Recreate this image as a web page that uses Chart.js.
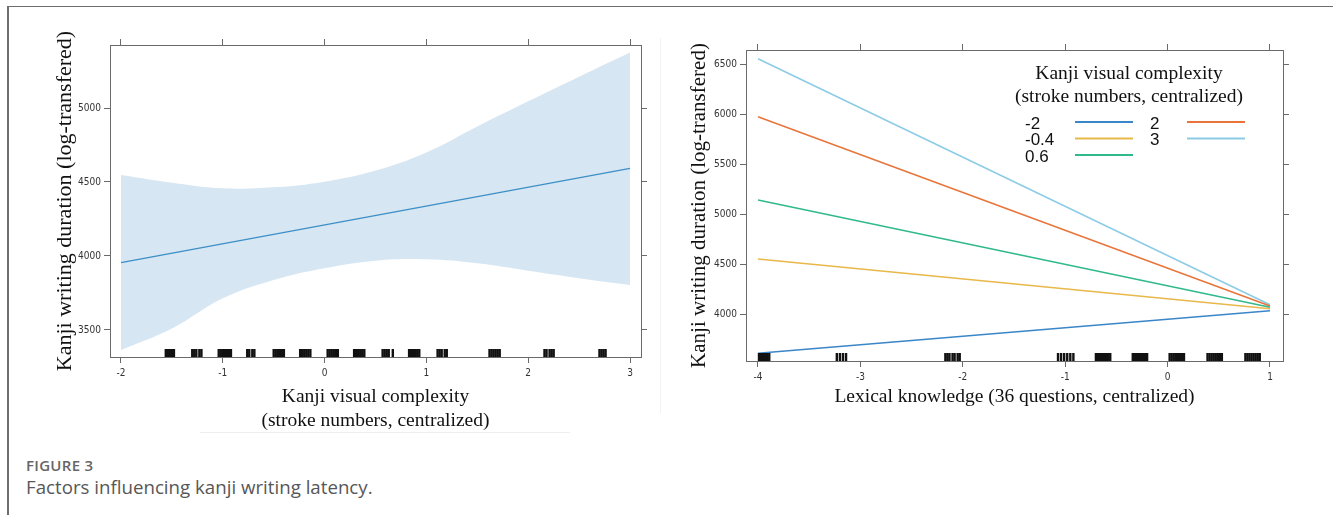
<!DOCTYPE html>
<html lang="en">
<head>
<meta charset="UTF-8">
<meta name="viewport" content="width=device-width, initial-scale=1.0">
<script src="https://cdn.jsdelivr.net/npm/chart.js"></script>
<title>Figure 3</title>
<style>
  body { margin: 0; background: #fff; width: 1333px; height: 515px; overflow: hidden; position: relative; font-family: "Open Sans", sans-serif; }
  #frame { position: absolute; left: 7px; top: 6px; right: 0; bottom: 0; border-left: 2px solid #6e6e6e; border-top: 1px solid #6e6e6e; }
  #left { position: absolute; left: 0; top: 0; }
  #right { position: absolute; left: 665px; top: 0; }
  .edge-h { position: absolute; left: 200px; top: 432px; width: 370px; height: 1px; background: #eeeeee; }
  .edge-v { position: absolute; left: 660px; top: 38px; width: 1px; height: 375px; background: #f2f2f2; }
  .cap1 { position: absolute; left: 26px; top: 455px; font-size: 15px; font-weight: 600; color: #666; letter-spacing: 0.3px; }
  .cap2 { position: absolute; left: 26px; top: 474px; font-size: 18.7px; color: #575757; }
</style>
</head>
<body>
  <div id="frame"></div>
  <div class="edge-h"></div>
  <div class="edge-v"></div>
  <canvas id="left" width="660" height="440"></canvas>
  <canvas id="right" width="668" height="440"></canvas>
  <div class="cap1">FIGURE 3</div>
  <div class="cap2">Factors influencing kanji writing latency.</div>
  <script>
    // left panel: visual complexity
    const complexityTicks = [-2, -1, 0, 1, 2, 3]
    const durationTicksLeft = [3500, 4000, 4500, 5000]
    const bandX = [-2, -1.5, -1, -0.5, 0, 0.5, 1, 1.5, 2, 2.5, 3]
    const bandUpper = [4547, 4495, 4457, 4464, 4502, 4577, 4700, 4875, 5045, 5212, 5376]
    const bandLower = [3365, 3510, 3714, 3838, 3917, 3968, 3977, 3950, 3900, 3850, 3804]
    const fitX = [-2, 3]
    const fitY = [3955, 4592]
    const complexityRug = [
      -1.56, -1.54, -1.52, -1.50, -1.48,
      -1.30, -1.28, -1.26, -1.23, -1.21,
      -1.04, -1.02, -1.00, -0.98, -0.96, -0.94, -0.92,
      -0.76, -0.74, -0.71, -0.69,
      -0.50, -0.48, -0.46, -0.44, -0.42, -0.40,
      -0.24, -0.22, -0.20, -0.18, -0.16, -0.14,
      0.03, 0.05, 0.07, 0.09, 0.11, 0.13,
      0.29, 0.31, 0.33, 0.35, 0.37, 0.39,
      0.57, 0.59, 0.61, 0.63, 0.67,
      0.83, 0.85, 0.87, 0.89, 0.91, 0.93,
      1.11, 1.13, 1.15, 1.18, 1.20,
      1.62, 1.64, 1.66, 1.68, 1.70, 1.72,
      2.16, 2.18, 2.21, 2.23, 2.25,
      2.70, 2.72, 2.74, 2.76
    ]

    // right panel: lexical knowledge x complexity
    const lexicalTicks = [-4, -3, -2, -1, 0, 1]
    const durationTicksRight = [4000, 4500, 5000, 5500, 6000, 6500]
    const lexicalX = [-4, 1]
    const complexityLevels = ['-2', '-0.4', '0.6', '2', '3']
    const levelMinus2 = [3607, 4033]
    const levelMinus04 = [4550, 4053]
    const level06 = [5140, 4067]
    const level2 = [5973, 4080]
    const level3 = [6553, 4093]
    const lexicalRug = [
      -3.99, -3.97, -3.95, -3.93, -3.91, -3.89,
      -3.23, -3.20, -3.17, -3.14,
      -2.17, -2.15, -2.13, -2.10, -2.08, -2.05, -2.03,
      -1.07, -1.04, -1.01, -0.98, -0.95, -0.92,
      -0.70, -0.68, -0.66, -0.64, -0.62, -0.60, -0.58, -0.56,
      -0.34, -0.32, -0.30, -0.28, -0.26, -0.24, -0.22, -0.20,
      0.02, 0.04, 0.06, 0.08, 0.10, 0.12, 0.14, 0.16,
      0.39, 0.41, 0.43, 0.45, 0.47, 0.49, 0.51, 0.53,
      0.76, 0.78, 0.80, 0.82, 0.84, 0.86, 0.88, 0.90
    ]

    const levelColors = ['#3a86c8', '#e8b84a', '#2fb98c', '#e8743a', '#8ccbe6']
    const serif = "'Liberation Serif', 'Times New Roman', serif"
    const tickFont = { family: "'Liberation Sans Narrow', 'Arial Narrow', 'DejaVu Sans Condensed', sans-serif", size: 10 }
    const boxColor = '#6a6a6a'

    const pts = (xs, ys) => xs.map((x, i) => ({ x, y: ys[i] }))
    const fixedTicks = values => scale => { scale.ticks = values.map(v => ({ value: v })) }

    // rug marks along the bottom of the plot area
    const rugPlugin = {
      id: 'rug',
      afterDatasetsDraw(chart, args, opts) {
        const { ctx, chartArea, scales } = chart
        ctx.save()
        ctx.strokeStyle = '#111'
        ctx.lineWidth = 2.4
        opts.values.forEach(v => {
          const x = scales.x.getPixelForValue(v)
          ctx.beginPath()
          ctx.moveTo(x, chartArea.bottom)
          ctx.lineTo(x, chartArea.bottom - 8)
          ctx.stroke()
        })
        ctx.restore()
      }
    }

    function axes(xr, yr, xTicks, yTicks, sizes, titles) {
      const grid = { drawOnChartArea: false, tickLength: 6, color: boxColor }
      const border = { color: boxColor, width: 1 }
      const labels = { font: tickFont, color: '#333', maxRotation: 0, callback: v => v }
      return {
        x: {
          type: 'linear', position: 'bottom', min: xr[0], max: xr[1],
          afterBuildTicks: fixedTicks(xTicks), afterFit: s => { s.height = sizes.bottom },
          grid, border, ticks: { ...labels, padding: 4 },
          title: { display: true, text: titles.x, color: '#111', font: { family: serif, size: 19.5, lineHeight: 1.2 }, padding: { bottom: sizes.xTitlePad } }
        },
        x2: {
          type: 'linear', position: 'top', min: xr[0], max: xr[1],
          afterBuildTicks: fixedTicks(xTicks), afterFit: s => { s.height = sizes.top },
          grid, border, ticks: { display: false }
        },
        y: {
          type: 'linear', position: 'left', min: yr[0], max: yr[1],
          afterBuildTicks: fixedTicks(yTicks), afterFit: s => { s.width = sizes.left },
          grid, border, ticks: { ...labels, padding: 3 },
          title: { display: true, text: titles.y, color: '#111', font: { family: serif, size: sizes.yTitleSize, lineHeight: 1.2 }, padding: { top: sizes.yTitlePad } }
        },
        y2: {
          type: 'linear', position: 'right', min: yr[0], max: yr[1],
          afterBuildTicks: fixedTicks(yTicks), afterFit: s => { s.width = sizes.right },
          grid, border, ticks: { display: false }
        }
      }
    }

    const yTitle = 'Kanji writing duration (log-transfered)'

    new Chart(document.getElementById('left'), {
      type: 'line',
      data: {
        datasets: [
          { label: 'fit', data: pts(fitX, fitY), borderColor: '#3d8fc6', borderWidth: 1.5, pointRadius: 0, fill: false },
          { label: 'upper', data: pts(bandX, bandUpper), borderWidth: 0, pointRadius: 0, fill: '+1', backgroundColor: '#d6e6f2', tension: 0.4 },
          { label: 'lower', data: pts(bandX, bandLower), borderWidth: 0, pointRadius: 0, fill: false, tension: 0.4 }
        ]
      },
      options: {
        responsive: false, animation: false, devicePixelRatio: 1,
        layout: { padding: 0 },
        plugins: { legend: { display: false }, tooltip: { enabled: false }, rug: { values: complexityRug } },
        scales: axes([-2.108, 3.108], [3317, 5426], complexityTicks, durationTicksLeft,
          { top: 45, bottom: 83, left: 110, right: 19, xTitlePad: 7.6, yTitlePad: 51.8, yTitleSize: 22 },
          { x: ['Kanji visual complexity', '(stroke numbers, centralized)'], y: yTitle })
      },
      plugins: [rugPlugin]
    })

    // legend drawn inside the right plot
    const legendPlugin = {
      id: 'levelLegend',
      afterDatasetsDraw(chart) {
        const { ctx } = chart
        ctx.save()
        ctx.fillStyle = '#111'
        ctx.textBaseline = 'middle'
        ctx.textAlign = 'center'
        ctx.font = `19.5px ${serif}`
        ctx.fillText('Kanji visual complexity', 464, 74)
        ctx.fillText('(stroke numbers, centralized)', 464, 97)
        ctx.textAlign = 'left'
        ctx.font = "17px 'Liberation Sans', Arial, sans-serif"
        chart.data.datasets.forEach((ds, i) => {
          const col = i < 3 ? 0 : 1
          const row = i % 3
          const tx = col === 0 ? 360 : 485
          const lx = col === 0 ? 410 : 522
          const ly = 122 + row * 16.5
          ctx.fillText(ds.label, tx, ly + 2)
          ctx.strokeStyle = ds.borderColor
          ctx.lineWidth = 2
          ctx.beginPath()
          ctx.moveTo(lx, ly)
          ctx.lineTo(lx + 58, ly)
          ctx.stroke()
        })
        ctx.restore()
      }
    }

    const levelSeries = [levelMinus2, levelMinus04, level06, level2, level3]

    new Chart(document.getElementById('right'), {
      type: 'line',
      data: {
        datasets: levelSeries.map((ys, i) => ({
          label: complexityLevels[i], data: pts(lexicalX, ys),
          borderColor: levelColors[i], borderWidth: 1.5, pointRadius: 0, fill: false
        }))
      },
      options: {
        responsive: false, animation: false, devicePixelRatio: 1,
        layout: { padding: 0 },
        plugins: { legend: { display: false }, tooltip: { enabled: false }, rug: { values: lexicalRug } },
        scales: axes([-4.117, 1.127], [3530, 6640], lexicalTicks, durationTicksRight,
          { top: 50, bottom: 79, left: 81, right: 50, xTitlePad: 31.6, yTitlePad: 21.4, yTitleSize: 21 },
          { x: 'Lexical knowledge (36 questions, centralized)', y: yTitle })
      },
      plugins: [rugPlugin, legendPlugin]
    })
  </script>
</body>
</html>
